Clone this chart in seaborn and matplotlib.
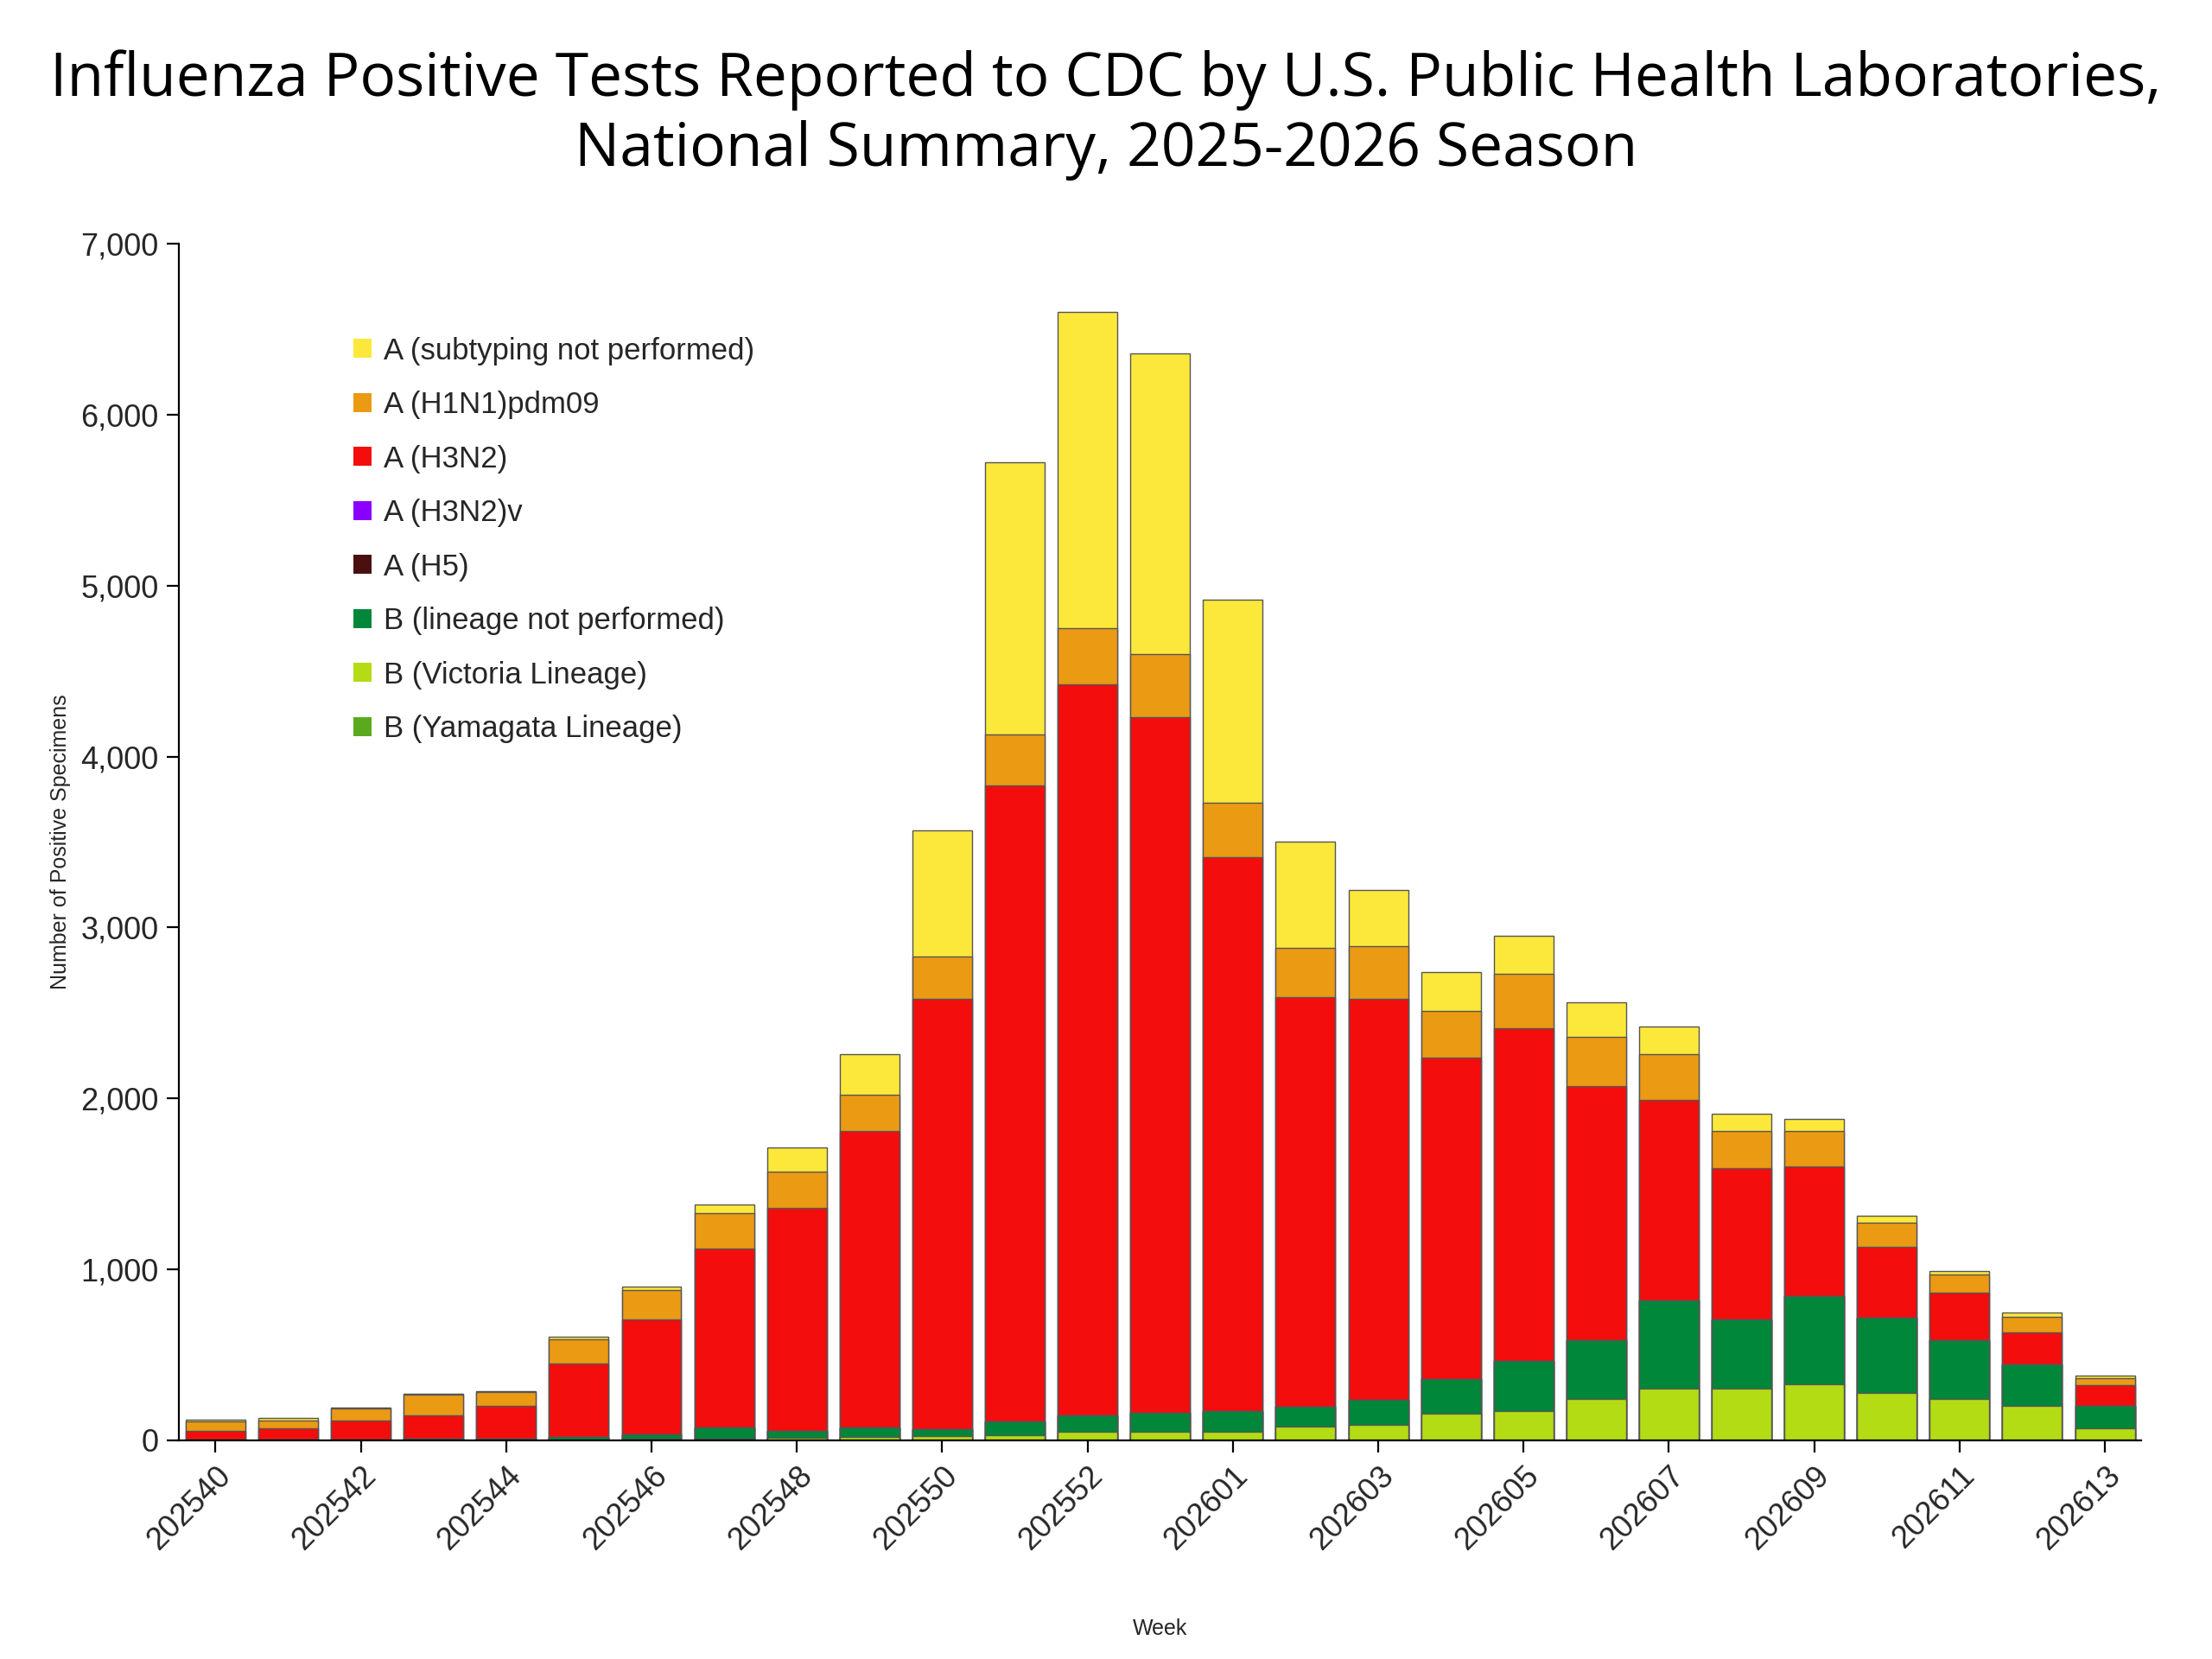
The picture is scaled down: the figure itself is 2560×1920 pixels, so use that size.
import numpy as np
import pandas as pd
import matplotlib
matplotlib.use("Agg")
import matplotlib.pyplot as plt
import seaborn as sns
from matplotlib.patches import Patch

weeks = [f"2025{w}" for w in range(40, 54)] + [f"2026{w:02d}" for w in range(1, 14)]

# counts per series
victoria = [0, 0, 0, 0, 0, 5, 10, 10, 15, 20, 25, 30, 50, 50, 50, 80, 90, 155, 170, 240, 300, 300, 325, 275, 240, 200, 70]
b_not_perf = [5, 5, 5, 10, 10, 15, 25, 65, 40, 55, 40, 80, 95, 110, 120, 115, 145, 200, 295, 345, 515, 405, 515, 440, 345, 245, 130]
h3n2 = [50, 65, 110, 135, 190, 430, 670, 1045, 1305, 1735, 2515, 3720, 4275, 4070, 3240, 2395, 2345, 1885, 1945, 1485, 1175, 885, 760, 415, 275, 185, 120]
h1n1 = [55, 45, 70, 120, 80, 140, 175, 210, 210, 210, 250, 300, 330, 370, 320, 290, 310, 270, 320, 290, 270, 220, 210, 140, 110, 90, 40]
a_not_sub = [10, 15, 5, 5, 5, 15, 20, 50, 140, 240, 740, 1590, 1850, 1760, 1190, 620, 330, 230, 220, 200, 160, 100, 70, 40, 20, 25, 15]
h3n2v = [0] * 27
h5 = [0] * 27
yamagata = [0] * 27

series = [
    ("A (subtyping not performed)", a_not_sub, "#FBE83A"),
    ("A (H1N1)pdm09", h1n1, "#EB9A14"),
    ("A (H3N2)", h3n2, "#F40D0D"),
    ("A (H3N2)v", h3n2v, "#8A00FF"),
    ("A (H5)", h5, "#4A1010"),
    ("B (lineage not performed)", b_not_perf, "#00873A"),
    ("B (Victoria Lineage)", victoria, "#B4DC14"),
    ("B (Yamagata Lineage)", yamagata, "#5BAA1E"),
]

# cumulative from the bottom of the stack (last series sits at the bottom)
cum = np.zeros(len(weeks))
tops = []
for name, vals, col in reversed(series):
    cum = cum + np.array(vals)
    tops.append((name, cum.copy(), col))

sns.set_style("white")
plt.rcParams["font.family"] = ["Liberation Sans", "DejaVu Sans"]

fig = plt.figure(figsize=(12.8, 9.6), dpi=200)
ax = fig.add_axes([0.081, 0.132, 0.887, 0.721])

# draw tallest first so lower segments cover it
for name, top, col in reversed(tops):
    sns.barplot(x=weeks, y=top, color=col, ax=ax, width=0.82,
                edgecolor="#555555", linewidth=0.5, saturation=1, order=weeks)

ax.set_ylim(0, 7000)
ax.set_xlim(-0.5, len(weeks) - 0.5)
ax.set_yticks(range(0, 7001, 1000))
ax.set_yticklabels([f"{v:,}" for v in range(0, 7001, 1000)], fontsize=13)
ax.set_xticks(range(0, len(weeks), 2))
ax.set_xticklabels(weeks[::2], rotation=45, ha="right", rotation_mode="anchor", fontsize=13)
ax.tick_params(axis="both", direction="out", length=5, color="black", bottom=True, left=True)
for s in ["top", "right"]:
    ax.spines[s].set_visible(False)
for s in ["left", "bottom"]:
    ax.spines[s].set_color("black")
    ax.spines[s].set_linewidth(0.8)
ax.set_ylabel("Number of Positive Specimens", fontsize=9)
ax.set_xlabel("Week", fontsize=9, labelpad=26)

handles = [Patch(facecolor=c, edgecolor="none", label=n) for n, _, c in series]
ax.legend(handles=handles, loc="upper left", bbox_to_anchor=(0.075, 0.945), frameon=False,
          fontsize=12.5, handlelength=0.6, handleheight=0.6, handletextpad=0.4, labelspacing=0.85)

fig.suptitle("Influenza Positive Tests Reported to CDC by U.S. Public Health Laboratories,\nNational Summary, 2025-2026 Season",
             fontsize=25, y=0.97, color="black", family=["Open Sans", "DejaVu Sans"], linespacing=1.2)

fig.savefig("out.png", dpi=200)
